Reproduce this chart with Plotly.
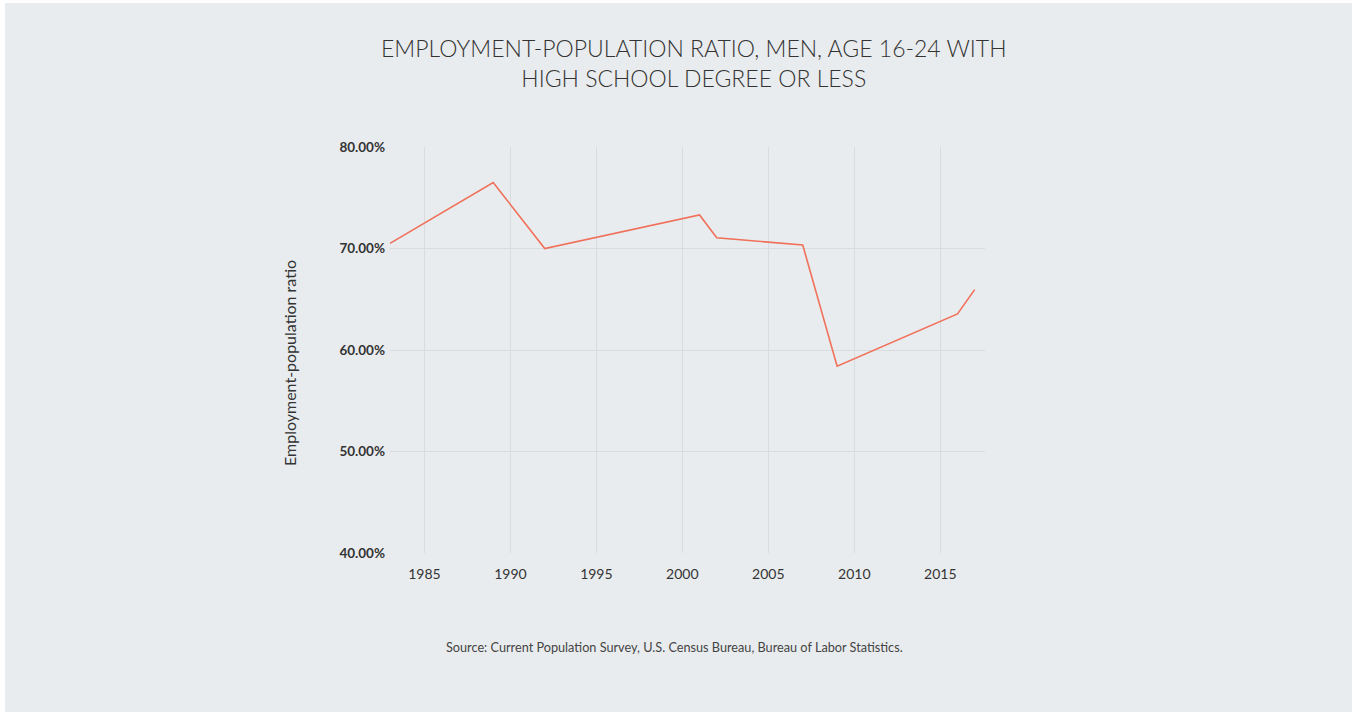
import plotly.graph_objects as go

years = [1983, 1989, 1992, 2001, 2002, 2007, 2009, 2016, 2017]
ratio = [70.5, 76.5, 70.0, 73.3, 71.05, 70.35, 58.4, 63.55, 65.95]
y_ticks = [40, 50, 60, 70, 80]
x_ticks = [1985, 1990, 1995, 2000, 2005, 2010, 2015]

BG = "#e9ecee"
W, H = 1352, 712
L, R, T, B = 390, 985, 147, 553

def px_x(p):
    return (p - L) / (R - L)

def px_y(p):
    return (B - p) / (B - T)

fig = go.Figure()
fig.add_trace(go.Scatter(
    x=years, y=ratio, mode="lines",
    line=dict(color="#f0705a", width=1.6),
    hoverinfo="x+y", showlegend=False,
))

fig.update_layout(
    width=W, height=H,
    margin=dict(l=L, r=W - R, t=T, b=H - B, pad=0),
    paper_bgcolor="white",
    plot_bgcolor=BG,
    font=dict(family="Lato, sans-serif", color="#333333"),
    shapes=[dict(type="rect", xref="paper", yref="paper", layer="below",
                 x0=px_x(5), x1=px_x(W + 10), y0=px_y(H + 10), y1=px_y(3),
                 fillcolor=BG, line=dict(width=0))],
    xaxis=dict(
        range=[1983, 2017.6], tickmode="array", tickvals=x_ticks,
        ticktext=[str(v) for v in x_ticks],
        showgrid=True, gridcolor="#d9dcde", gridwidth=1,
        zeroline=False, showline=False, ticks="",
        tickfont=dict(size=14, color="#333333", family="Lato, sans-serif"),
        ticklabelstandoff=11,
    ),
    yaxis=dict(
        range=[40, 80], tickmode="array", tickvals=y_ticks,
        ticktext=[f"{v:.2f}%" for v in y_ticks],
        showgrid=True, gridcolor="#d9dcde", gridwidth=1,
        zeroline=False, showline=False, ticks="",
        tickfont=dict(size=13.5, color="#333333", family="Lato, sans-serif", weight="bold"),
        ticklabelstandoff=4,
    ),
    annotations=[
        dict(text="EMPLOYMENT-POPULATION RATIO, MEN, AGE 16-24 WITH<br>HIGH SCHOOL DEGREE OR LESS",
             xref="paper", yref="paper", x=px_x(694), y=px_y(62.5),
             xanchor="center", yanchor="middle", showarrow=False,
             font=dict(size=23, color="#333333", family="Lato, sans-serif", weight=300)),
        dict(text="Employment-population ratio", textangle=-90,
             xref="paper", yref="paper", x=px_x(289), y=px_y(363),
             xanchor="center", yanchor="middle", showarrow=False,
             font=dict(size=16, color="#333333", family="Lato, sans-serif")),
        dict(text="Source: Current Population Survey, U.S. Census Bureau, Bureau of Labor Statistics.",
             xref="paper", yref="paper", x=px_x(674), y=px_y(647),
             xanchor="center", yanchor="middle", showarrow=False,
             font=dict(size=12.7, color="#444444", family="Lato, sans-serif")),
    ],
)

fig.write_html("out.html", config={"displayModeBar": False},
               post_script="document.body.style.margin='0';document.body.style.padding='0';")
